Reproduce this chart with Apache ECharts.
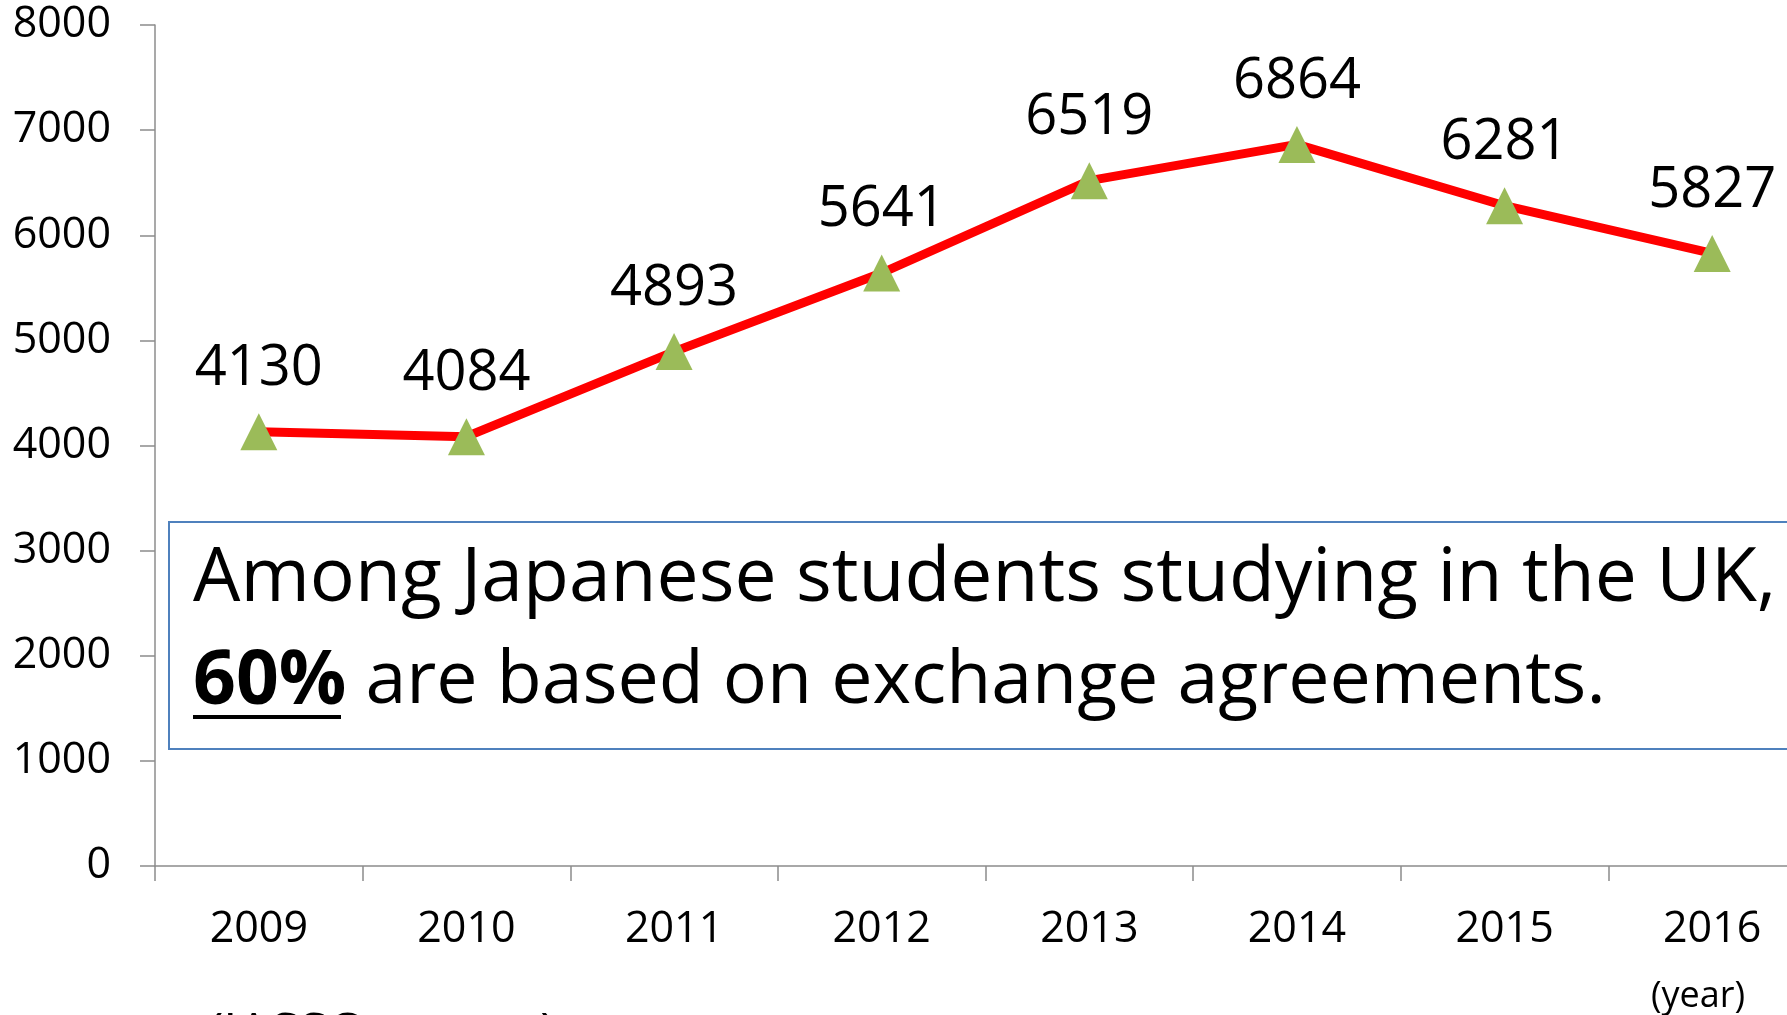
<!DOCTYPE html>
<html>
<head>
<meta charset="utf-8">
<script src="https://cdn.jsdelivr.net/npm/echarts@6/dist/echarts.min.js"></script>
<style>
  html, body { margin: 0; padding: 0; background: #fff; }
  #chart { width: 1787px; height: 1015px; }
</style>
</head>
<body>
<div id="chart"></div>
<script>
// chart data
const years = ['2009', '2010', '2011', '2012', '2013', '2014', '2015', '2016'];
const students = [4130, 4084, 4893, 5641, 6519, 6864, 6281, 5827];
const yTicks = [0, 1000, 2000, 3000, 4000, 5000, 6000, 7000, 8000];

const FONT = '"Open Sans", "Noto Sans", sans-serif';
const axisGray = '#8c8c8c';

const chart = echarts.init(document.getElementById('chart'));

chart.setOption({
  animation: false,
  backgroundColor: '#ffffff',
  textStyle: { fontFamily: FONT },
  // plot runs past the right edge of the picture, as in the original slide
  grid: { left: 155, top: 25, width: 1661, bottom: 149, outerBoundsMode: 'none', containLabel: false },
  xAxis: {
    type: 'category',
    data: years,
    boundaryGap: true,
    axisLine: { lineStyle: { color: axisGray, width: 1.5 } },
    axisTick: { show: true, length: 15, lineStyle: { color: axisGray, width: 1.5 } },
    axisLabel: { color: '#000', fontSize: 43, fontFamily: FONT, margin: 42 },
    splitLine: { show: false }
  },
  yAxis: {
    type: 'value',
    min: yTicks[0],
    max: yTicks[yTicks.length - 1],
    interval: 1000,
    axisLine: { show: true, lineStyle: { color: axisGray, width: 1.5 } },
    axisTick: { show: true, length: 15, lineStyle: { color: axisGray, width: 1.5 } },
    axisLabel: {
      color: '#000', fontSize: 43, fontFamily: FONT, margin: 44,
      formatter: v => String(v)
    },
    splitLine: { show: false }
  },
  series: [
    {
      type: 'line',
      data: students,
      symbol: 'triangle',
      symbolSize: 37,
      lineStyle: { color: '#ff0000', width: 9 },
      itemStyle: { color: '#9bbb59' },
      label: {
        show: true,
        position: 'top',
        distance: 16,
        color: '#000',
        fontSize: 56,
        fontFamily: FONT
      }
    }
  ],
  graphic: [
    // annotation box
    {
      type: 'rect',
      shape: { x: 169, y: 522, width: 1700, height: 227 },
      style: { fill: '#fff', stroke: '#4f81bd', lineWidth: 2 },
      z: 1
    },
    {
      type: 'text',
      x: 193,
      y: 528,
      z: 2,
      style: {
        text: 'Among Japanese students studying in the UK,\n{b|60%}{n| are based on exchange agreements.}',
        fontFamily: FONT,
        fontSize: 75,
        lineHeight: 103,
        fill: '#000',
        rich: {
          b: { fontWeight: 'bold', fontSize: 75, fontFamily: FONT, lineHeight: 103 },
          n: { fontSize: 73.5, fontFamily: FONT, lineHeight: 103 }
        }
      }
    },
    // underline of "60%"
    {
      type: 'line',
      z: 2,
      shape: { x1: 193, y1: 717, x2: 341, y2: 717 },
      style: { stroke: '#000', lineWidth: 4 }
    },
    {
      type: 'text',
      x: 1698,
      y: 997,
      style: {
        text: '(year)',
        fontFamily: FONT,
        fontSize: 36,
        fill: '#000',
        textAlign: 'center',
        textVerticalAlign: 'middle'
      }
    },
    // source note, mostly clipped at the bottom edge
    {
      type: 'text',
      x: 208,
      y: 1009,
      style: {
        text: '(JASSO survey)',
        fontFamily: FONT,
        fontSize: 52,
        fill: '#000',
        textVerticalAlign: 'top'
      }
    }
  ]
});
</script>
</body>
</html>
